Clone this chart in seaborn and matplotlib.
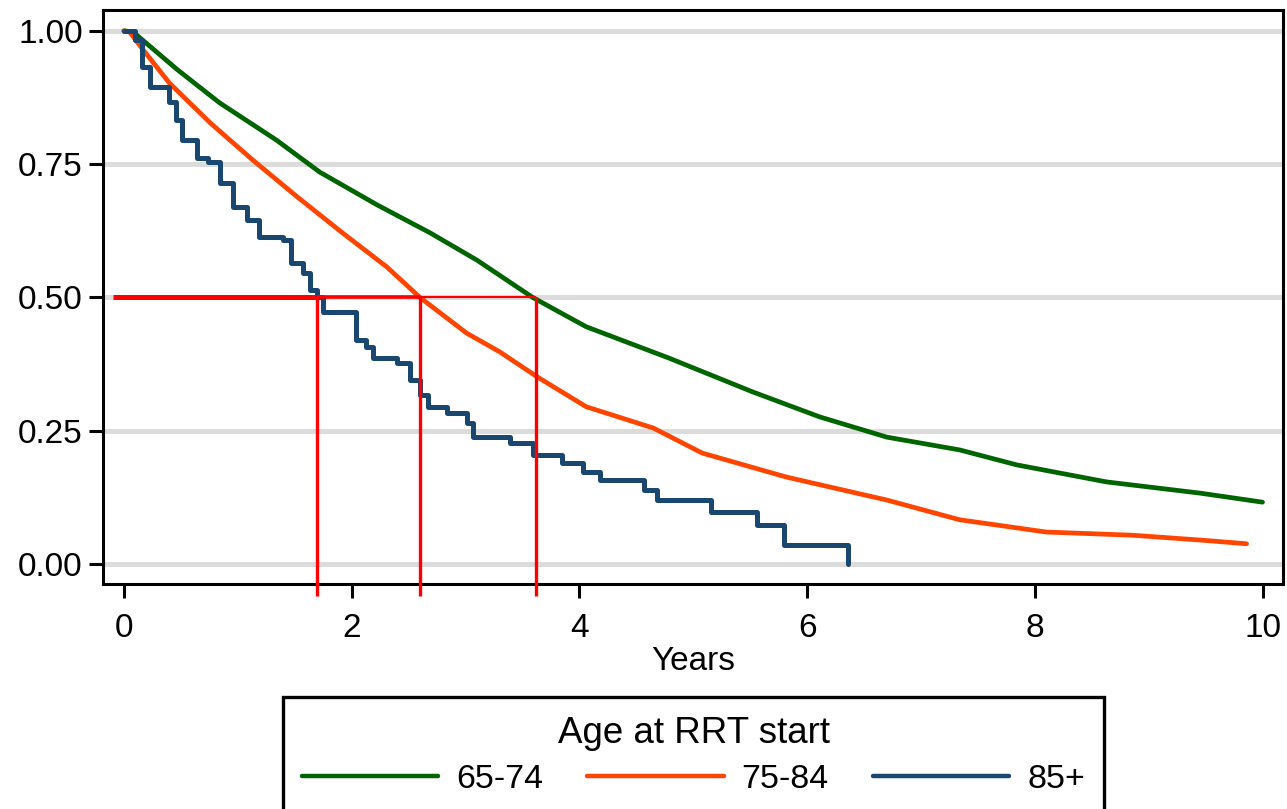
import numpy as np
import pandas as pd
import matplotlib
matplotlib.use('Agg')
import matplotlib.pyplot as plt
import seaborn as sns

# Kaplan-Meier survival by age group at RRT start
years_65_74 = [0, 0.08, 0.47, 0.84, 1.34, 1.72, 2.22, 2.69, 3.10, 3.59, 4.06, 4.79, 5.52,
               6.11, 6.70, 7.34, 7.84, 8.63, 9.45, 10.0]
surv_65_74 = [1.0, 0.998, 0.927, 0.865, 0.795, 0.735, 0.674, 0.621, 0.570, 0.50, 0.445, 0.386, 0.323,
              0.276, 0.238, 0.214, 0.186, 0.154, 0.133, 0.116]

years_75_84 = [0, 0.05, 0.17, 0.40, 0.76, 1.13, 1.52, 1.92, 2.31, 2.6, 3.01, 3.3, 3.63, 4.06,
               4.65, 5.08, 5.82, 6.70, 7.34, 8.1, 8.86, 9.45, 9.86]
surv_75_84 = [1.0, 0.998, 0.964, 0.902, 0.827, 0.758, 0.689, 0.621, 0.557, 0.50, 0.433, 0.398, 0.351, 0.295,
              0.255, 0.208, 0.163, 0.12, 0.083, 0.06, 0.054, 0.045, 0.038]

years_85 = [0, 0.10, 0.16, 0.23, 0.40, 0.46, 0.51, 0.64, 0.74, 0.84, 0.96, 1.08, 1.19, 1.40, 1.47,
            1.57, 1.63, 1.70, 1.75, 2.04, 2.13, 2.19, 2.40, 2.51, 2.6, 2.67, 2.84, 3.01, 3.07,
            3.39, 3.59, 3.85, 4.03, 4.18, 4.57, 4.68, 5.16, 5.56, 5.80, 6.36]
surv_85 = [1.0, 0.983, 0.932, 0.895, 0.867, 0.833, 0.795, 0.762, 0.754, 0.715, 0.67, 0.645, 0.614, 0.608,
           0.565, 0.546, 0.514, 0.50, 0.473, 0.42, 0.407, 0.386, 0.377, 0.345, 0.317, 0.295, 0.283, 0.265,
           0.238, 0.227, 0.204, 0.189, 0.173, 0.158, 0.139, 0.12, 0.098, 0.073, 0.036, 0.0]

groups = ['65-74', '75-84', '85+']
colors = ['#006400', '#ff4500', '#1a476f']
median_years = [1.70, 2.60, 3.62]   # 85+, 75-84, 65-74

sns.set_theme(style='white')
plt.rcParams['font.family'] = ['Liberation Sans', 'DejaVu Sans']
plt.rcParams['text.color'] = 'black'

fig = plt.figure(figsize=(12.87, 8.09), dpi=100)
ax = fig.add_axes([0.0800, 0.2781, 0.9169, 0.7095])

df_a = pd.DataFrame({'Years': years_65_74, 'S': surv_65_74})
df_b = pd.DataFrame({'Years': years_75_84, 'S': surv_75_84})
df_c = pd.DataFrame({'Years': years_85, 'S': surv_85})

sns.lineplot(data=df_a, x='Years', y='S', color=colors[0], lw=3.4, estimator=None, sort=False,
             label=groups[0], ax=ax, zorder=3)
sns.lineplot(data=df_b, x='Years', y='S', color=colors[1], lw=3.4, estimator=None, sort=False,
             label=groups[1], ax=ax, zorder=3)
sns.lineplot(data=df_c, x='Years', y='S', color=colors[2], lw=3.6, estimator=None, sort=False,
             drawstyle='steps-post', label=groups[2], ax=ax, zorder=3)

# median survival guide lines
hl_widths = [3.6, 2.6, 1.5]
hl_start = [-0.1, 0, 0]
for m, w, s in zip(median_years, hl_widths, hl_start):
    ax.plot([s, m], [0.5, 0.5], color='#ff0000', lw=w, zorder=4, solid_capstyle='butt')
    ax.plot([m, m], [0.5, -0.06], color='#ff0000', lw=2.4, zorder=4, clip_on=False,
            solid_capstyle='butt')

ax.set_xlim(-0.184, 10.18)
ax.set_ylim(-0.0375, 1.039)
ax.set_xticks([0, 2, 4, 6, 8, 10])
ax.set_yticks([0, 0.25, 0.5, 0.75, 1.0])
ax.set_yticklabels(['0.00', '0.25', '0.50', '0.75', '1.00'])
ax.yaxis.grid(True, color='#dcdcdc', lw=3.6)
ax.xaxis.grid(False)
ax.set_axisbelow(True)

for sp in ax.spines.values():
    sp.set_visible(True)
    sp.set_color('black')
    sp.set_linewidth(2.2)

ax.tick_params(axis='both', which='major', direction='out', length=10, width=2.2,
               color='black', labelsize=24, labelcolor='black', bottom=True, left=True)
ax.tick_params(axis='y', pad=4.5)
ax.tick_params(axis='x', pad=11)
ax.set_xlabel('Years', fontsize=24, color='black', labelpad=1)
ax.set_ylabel('')

handles, labels = ax.get_legend_handles_labels()
ax.get_legend().remove()
leg = fig.legend(handles, labels, title='Age at RRT start', loc='upper center',
                 bbox_to_anchor=(693.5 / 1287, 1 - 697 / 809), ncol=3, fontsize=24.5,
                 title_fontsize=26.5, frameon=True, fancybox=False, edgecolor='black',
                 framealpha=1, handlelength=4.0, handletextpad=0.53, columnspacing=1.3,
                 borderpad=0.55, labelspacing=0.4, borderaxespad=0)
leg.get_frame().set_linewidth(2.4)
leg.get_title().set_color('black')
for t in leg.get_texts():
    t.set_color('black')
for h in leg.legend_handles:
    h.set_linewidth(3.2)

fig.savefig('out.png', dpi=100)
